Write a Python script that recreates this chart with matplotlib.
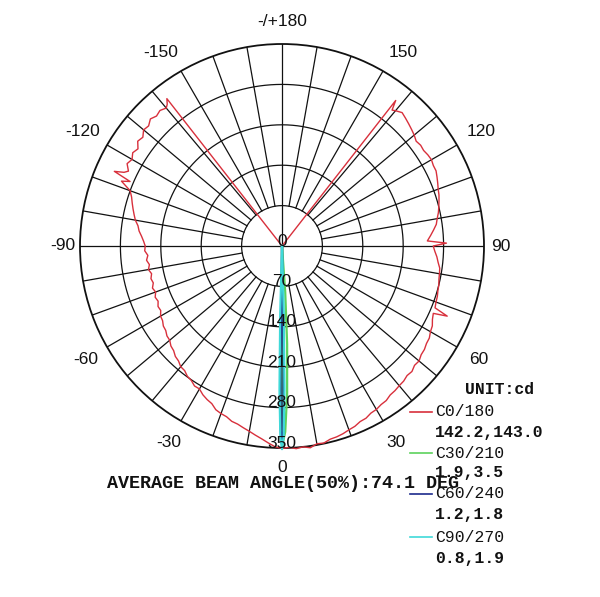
import numpy as np
import matplotlib
matplotlib.use("Agg")
import matplotlib.pyplot as plt
from matplotlib.lines import Line2D

# ---------------- data ----------------
c0_angles = [-180, -143, -142, -141, -140, -138, -136, -134, -132, -130, -128, -126,
             -124, -122, -120, -118, -116, -115, -114, -113, -112, -110, -108, -106,
             -104, -102, -100, -98, -96, -94, -92, -90, -88, -86, -84, -82, -80, -78,
             -76, -74, -72, -70, -68, -66, -64, -62, -60, -58, -56, -54, -52, -50,
             -48, -46, -44, -42, -40, -38, -36, -34, -32, -30, -28, -26, -24, -22,
             -20, -18, -16, -14, -12, -10, -8, -6, -4, -2, 0, 2, 4, 6, 8, 10, 12, 14,
             16, 18, 20, 22, 24, 26, 28, 30, 32, 34, 36, 38, 40, 42, 44, 46, 48, 50,
             52, 54, 56, 58, 60, 62, 64, 66, 67, 68, 70, 72, 74, 76, 78, 80, 82, 84,
             86, 88, 90, 91, 92, 94, 96, 98, 100, 102, 104, 106, 108, 110, 112, 114,
             116, 118, 120, 122, 124, 126, 128, 130, 132, 134, 136, 138, 140, 141,
             142, 143, 180]
c0_values = [0, 0, 324, 316, 312, 316, 313, 317, 311, 313, 306, 309,
             301, 305, 300, 304, 296, 302, 318, 286, 300, 280, 274, 270,
             266, 262, 258, 252, 249, 244, 240, 237, 238, 233, 236, 232, 235, 231,
             234, 232, 236, 233, 237, 235, 239, 238, 243, 244, 248, 249, 253, 254,
             259, 261, 266, 268, 273, 274, 279, 281, 286, 286, 292, 296, 299, 306,
             309, 311, 316, 318, 322, 326, 331, 336, 342, 348, 351, 349, 352, 350,
             353, 348, 349, 345, 344, 342, 339, 337, 333, 332, 328, 327, 324, 323,
             319, 318, 316, 315, 312, 313, 309, 310, 306, 305, 302, 301, 297, 295,
             290, 287, 311, 286, 284, 283, 281, 280, 278, 277, 276, 272, 269, 265,
             262, 285, 252, 258, 264, 270, 273, 277, 280, 283, 286, 288, 291, 294,
             297, 297, 299, 298, 296, 297, 295, 299, 302, 305, 308, 311, 306, 303,
             320, 0, 0]

c30_angles = [-1, 0, 1, 2, 3, 4, 5]
c30_values = [0, 348, 322, 255, 170, 80, 0]
c60_angles = [-1.2, -0.8, -0.4, 0, 0.4, 0.8, 1.2]
c60_values = [0, 200, 320, 345, 320, 200, 0]
c90_angles = [-2, -1.5, -1, -0.5, 0, 0.5, 1, 1.5, 2]
c90_values = [0, 120, 250, 330, 352, 330, 250, 120, 0]

ring_values = [70, 140, 210, 280, 350]
angle_ticks = [0, 30, 60, 90, 120, 150, 180, -150, -120, -90, -60, -30]
angle_labels = ["0", "30", "60", "90", "120", "150", "-/+180",
                "-150", "-120", "-90", "-60", "-30"]

series_names = ["C0/180", "C30/210", "C60/240", "C90/270"]
series_stats = ["142.2,143.0", "1.9,3.5", "1.2,1.8", "0.8,1.9"]
series_colors = ["#d8303c", "#5cd25c", "#1c2a8c", "#3fd9d9"]
unit_text = "UNIT:cd"
beam_text = "AVERAGE BEAM ANGLE(50%):74.1 DEG"

# ---------------- figure ----------------
W, H = 600, 597
fig = plt.figure(figsize=(W / 100, H / 100), dpi=100)
fig.patch.set_facecolor("white")

cx, cy, R = 282, 246, 202
ax = fig.add_axes([(cx - R) / W, (H - cy - R) / H, 2 * R / W, 2 * R / H],
                  projection="polar")
ax.set_theta_zero_location("S")
ax.set_theta_direction(1)
ax.set_ylim(0, ring_values[-1])
ax.set_xticks([])
ax.set_yticks([])
ax.grid(False)
ax.spines["polar"].set_linewidth(1.3)
ax.spines["polar"].set_color("#111111")

grid_kw = dict(color="#111111", lw=0.9, zorder=1)
full = np.linspace(0, 2 * np.pi, 721)
for r in ring_values[:-1]:
    ax.plot(full, np.full_like(full, r), **grid_kw)
for a in range(0, 360, 10):
    start = 0 if a % 90 == 0 else ring_values[0]
    ax.plot([np.deg2rad(a)] * 2, [start, ring_values[-1]], **grid_kw)

# series
all_angles = [c0_angles, c30_angles, c60_angles, c90_angles]
all_values = [c0_values, c30_values, c60_values, c90_values]
for k, (ang, val) in enumerate(zip(all_angles, all_values)):
    ax.plot(np.deg2rad(ang), val, color=series_colors[k],
            lw=1.0 if k == 0 else 1.6, zorder=3 + k, clip_on=False)

# angular labels (label placement: pixel distance from centre, slight angle tweak)
scale = ring_values[-1] / R
for a, lab in zip(angle_ticks, angle_labels):
    aa = abs(a)
    if aa == 0:
        d, pos = 222, a
    elif aa == 180:
        d, pos = 224, a
    elif aa == 90:
        d, pos = 219, a
    elif aa == 150:
        d, pos = 228, np.sign(a) * 148
    elif aa == 120:
        d, pos = 230, a
    else:
        d, pos = 227, a
    ax.text(np.deg2rad(pos), d * scale, lab, ha="center", va="center",
            fontsize=12.5, family="Liberation Sans", color="#111111",
            clip_on=False)

# radial labels
for v in [0] + ring_values:
    ax.annotate(str(v), xy=(0, v), xytext=(0, 5), textcoords="offset pixels",
                ha="center", va="center", fontsize=12.5,
                family="Liberation Sans", color="#111111", zorder=10,
                annotation_clip=False)


def fx(x):
    return x / W


def fy(y):
    return 1 - y / H


mono = "Liberation Mono"
fig.text(fx(107), fy(483), beam_text, ha="left", va="center", fontsize=13.2,
         family=mono, weight="bold", color="#111111")

fig.text(fx(465), fy(390), unit_text, ha="left", va="center", fontsize=11.8,
         family=mono, weight="bold", color="#111111")
name_y = [412, 453, 494, 537]
stat_y = [433, 472, 515, 559]
for k in range(4):
    fig.add_artist(Line2D([fx(410), fx(432)], [fy(name_y[k])] * 2,
                          color=series_colors[k], lw=1.2))
    fig.text(fx(435), fy(name_y[k]), series_names[k], ha="left", va="center",
             fontsize=11.8, family=mono, color="#111111")
    fig.text(fx(435), fy(stat_y[k]), series_stats[k], ha="left", va="center",
             fontsize=11.8, family=mono, weight="bold", color="#111111")

fig.savefig("out.png", dpi=100, facecolor="white")
